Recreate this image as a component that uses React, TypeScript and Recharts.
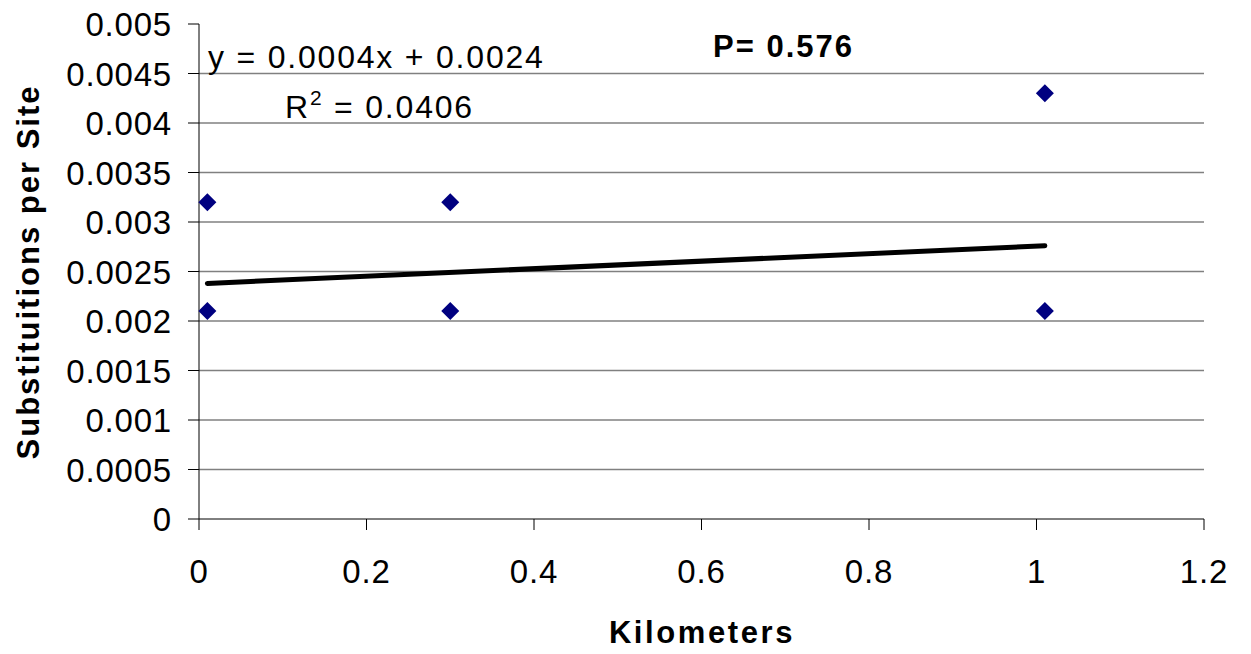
import { ScatterChart, Scatter, XAxis, YAxis, ReferenceLine } from 'recharts'

const kmValues = [0.01, 0.01, 0.3, 0.3, 1.01, 1.01]
const substValues = [0.0032, 0.0021, 0.0032, 0.0021, 0.0043, 0.0021]

const trendKm = [0.01, 1.01]
const trendSubst = [0.00238, 0.00276]

const xTicks = [0, 0.2, 0.4, 0.6, 0.8, 1, 1.2]
const yTicks = [0, 0.0005, 0.001, 0.0015, 0.002, 0.0025, 0.003, 0.0035, 0.004, 0.0045, 0.005]
const gridValues = [0.0005, 0.001, 0.0015, 0.002, 0.0025, 0.003, 0.0035, 0.004, 0.0045]

const points = kmValues.map((x, i) => ({ x, y: substValues[i] }))
const trend = trendKm.map((x, i) => ({ x, y: trendSubst[i] }))

const FONT = '"Liberation Sans", Arial, sans-serif'

const Diamond = ({ cx, cy }: any) => {
  const r = 9
  return (
    <polygon
      points={`${cx},${cy - r} ${cx + r},${cy} ${cx},${cy + r} ${cx - r},${cy}`}
      fill="#000080"
    />
  )
}

const YTick = ({ x, y, payload }: any) => (
  <text x={x - 14} y={y} dy={12} textAnchor="end" fontSize={33} fontFamily={FONT} fill="#000" letterSpacing={0.8}>
    {String(payload.value)}
  </text>
)

const XTick = ({ x, y, payload }: any) => (
  <text x={x} y={y} dy={51} textAnchor="middle" fontSize={33} fontFamily={FONT} fill="#000" letterSpacing={0.8}>
    {String(payload.value)}
  </text>
)

export default function App() {
  return (
    <div style={{ position: 'absolute', left: 0, top: 0, width: 1251, height: 654, background: '#fff' }}>
      <ScatterChart width={1251} height={654} margin={{ top: 24, right: 47, bottom: 0, left: 0 }}>
        <XAxis
          type="number"
          dataKey="x"
          domain={[0, 1.2]}
          ticks={xTicks}
          tick={<XTick />}
          tickSize={11}
          axisLine={{ stroke: '#000' }}
          tickLine={{ stroke: '#000' }}
          height={135}
        />
        <YAxis
          type="number"
          dataKey="y"
          domain={[0, 0.005]}
          ticks={yTicks}
          tick={<YTick />}
          tickSize={11}
          axisLine={{ stroke: '#000' }}
          tickLine={{ stroke: '#000' }}
          width={199}
        />
        {gridValues.map(v => (
          <ReferenceLine key={v} y={v} stroke="#808080" strokeWidth={1.5} />
        ))}
        <Scatter data={points} shape={<Diamond />} isAnimationActive={false} />
        <Scatter
          data={trend}
          line={{ stroke: '#000', strokeWidth: 5, strokeLinecap: 'round' } as any}
          shape={() => <g />}
          isAnimationActive={false}
        />
      </ScatterChart>
      <svg width={1251} height={654} style={{ position: 'absolute', left: 0, top: 0, pointerEvents: 'none' }}>
        <text x={208} y={68} fontSize={32} fontFamily={FONT} letterSpacing={1.8}>
          y = 0.0004x + 0.0024
        </text>
        <text x={285} y={118} fontSize={32} fontFamily={FONT} letterSpacing={1.8}>
          R<tspan fontSize={21} dy={-13}>2</tspan>
          <tspan dy={13}> = 0.0406</tspan>
        </text>
        <text x={713} y={57} fontSize={31} fontWeight="bold" fontFamily={FONT} letterSpacing={2}>
          P= 0.576
        </text>
        <text x={702} y={643} fontSize={31} fontWeight="bold" fontFamily={FONT} textAnchor="middle" letterSpacing={2.6}>
          Kilometers
        </text>
        <text
          x={0}
          y={0}
          transform="translate(39,272) rotate(-90)"
          fontSize={31}
          fontWeight="bold"
          fontFamily={FONT}
          textAnchor="middle"
          letterSpacing={2}
        >
          Substituitions per Site
        </text>
      </svg>
    </div>
  )
}
